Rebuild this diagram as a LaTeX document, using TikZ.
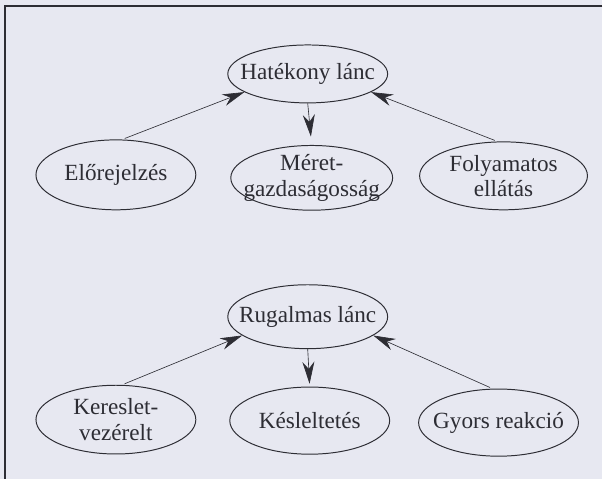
\documentclass[tikz,border=0pt]{standalone}
\usepackage{fontspec}
\setmainfont{Liberation Serif}
\usepackage{tikz}
\usepackage{xcolor}
\usetikzlibrary{shapes.geometric,arrows.meta}

\definecolor{paper}{RGB}{231,232,241}
\definecolor{ink}{RGB}{45,45,52}
\newcommand{\boxfont}{\fontsize{16.5}{18}\selectfont}

\begin{document}
\begin{tikzpicture}[every node/.style={font=\boxfont, text=ink},
  elli/.style={draw=ink, line width=0.7pt, ellipse, inner sep=0pt, minimum width=4cm},
  every label/.style={align=center, font=\boxfont, text=ink},
  arr/.style={draw=ink, line width=0.45pt, -{Stealth[length=5.5mm,width=3mm]}}]
  \fill[paper] (0, 0) rectangle (15.075, -11.975);
  \draw[ink, line width=0.8pt] (15.075, -0.15) -- (0.125, -0.15) -- (0.125, -11.975);
  % efficient chain
  \node[elli, minimum height=1.45cm, label={center:Hatékony lánc}] (hat) at (7.7, -1.85) {};
  \node[elli, minimum height=1.75cm, label={center:Előrejelzés}] (elo) at (2.9, -4.375) {};
  \node[elli, minimum width=4.05cm, minimum height=1.62cm, label={center:Méret-\\gazdaságosság}] (met) at (7.8, -4.45) {};
  \node[elli, minimum width=4.2cm, minimum height=1.7cm, label={center:Folyamatos\\ellátás}] (fol) at (12.6, -4.4) {};
  \draw[arr, shorten <=2pt] (elo.80) -- (hat.196);
  \draw[arr, shorten >=6pt] (hat.south) -- (met.north);
  \draw[arr, shorten <=2pt] (fol.100) -- (hat.-16);
  % responsive chain
  \node[elli, minimum height=1.6cm, label={center:Rugalmas lánc}] (rug) at (7.7, -7.925) {};
  \node[elli, minimum height=1.72cm, label={center:Kereslet-\\vezérelt}] (ker) at (2.9, -10.5) {};
  \node[elli, minimum height=1.68cm, label={center:Késleltetés}] (kes) at (7.75, -10.525) {};
  \node[elli, minimum height=1.68cm, label={center:Gyors reakció}] (gyo) at (12.475, -10.575) {};
  \draw[arr, shorten <=2pt] (ker.80) -- (rug.196);
  \draw[arr, shorten >=2pt] (rug.south) -- (kes.north);
  \draw[arr, shorten <=2pt] (gyo.100) -- (rug.-16);
\end{tikzpicture}
\end{document}
